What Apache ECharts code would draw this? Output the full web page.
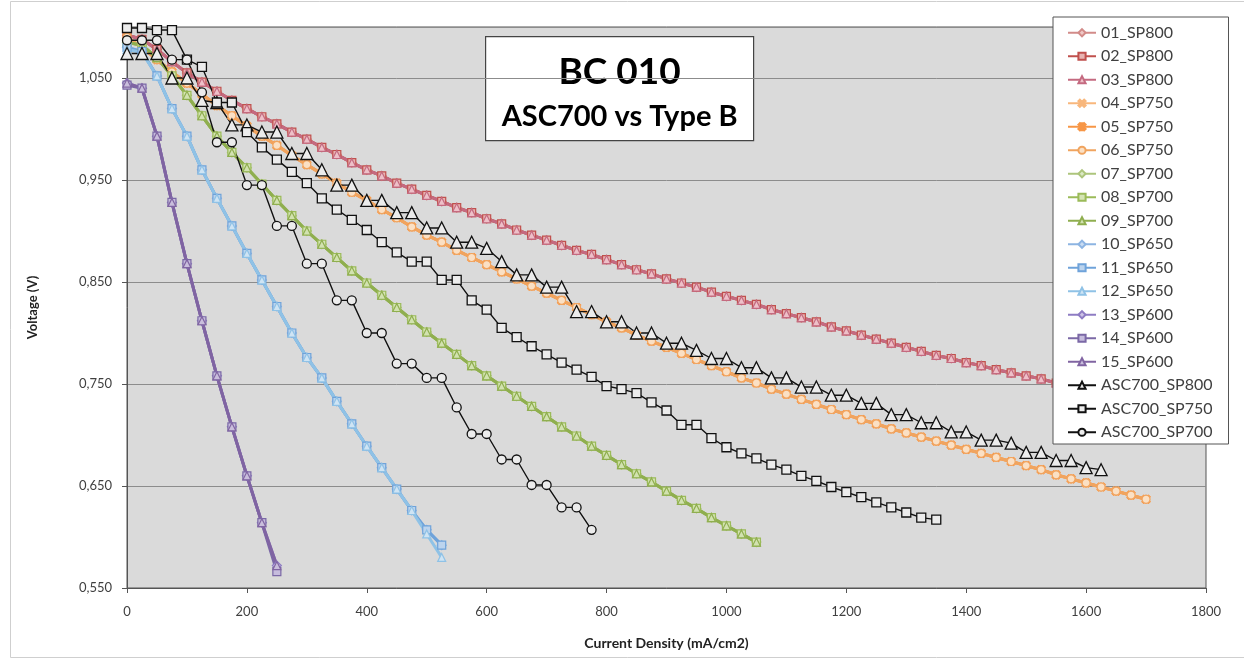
<!DOCTYPE html>
<html>
<head>
<meta charset="utf-8">
<title>BC 010 - ASC700 vs Type B</title>
<script src="https://cdn.jsdelivr.net/npm/echarts@6/dist/echarts.min.js"></script>
<style>
  html, body { margin: 0; padding: 0; background: #fff; }
  #chart { width: 1244px; height: 662px; }
</style>
</head>
<body>
<div id="chart"></div>
<script>
// current density steps (mA/cm2)
const current = [0, 25, 50, 75, 100, 125, 150, 175, 200, 225, 250, 275, 300, 325, 350, 375, 400, 425, 450, 475,
  500, 525, 550, 575, 600, 625, 650, 675, 700, 725, 750, 775, 800, 825, 850, 875, 900, 925, 950, 975,
  1000, 1025, 1050, 1075, 1100, 1125, 1150, 1175, 1200, 1225, 1250, 1275, 1300, 1325, 1350, 1375, 1400, 1425, 1450, 1475,
  1500, 1525, 1550, 1575, 1600, 1625, 1650, 1675, 1700]

// voltages (V)
const sp800 = [1.092, 1.088, 1.078, 1.066, 1.055, 1.046, 1.037, 1.028, 1.020, 1.012, 1.005, 0.997, 0.990, 0.982, 0.975, 0.967,
  0.960, 0.954, 0.947, 0.941, 0.935, 0.929, 0.923, 0.918, 0.912, 0.907, 0.901, 0.896, 0.891, 0.886, 0.881, 0.877,
  0.872, 0.867, 0.862, 0.858, 0.853, 0.849, 0.845, 0.840, 0.836, 0.832, 0.828, 0.823, 0.819, 0.815, 0.811, 0.806,
  0.802, 0.798, 0.794, 0.790, 0.786, 0.782, 0.778, 0.775, 0.771, 0.768, 0.764, 0.761, 0.758, 0.755, 0.751, 0.748,
  0.745, 0.742, 0.738]
const sp750 = [1.090, 1.080, 1.068, 1.056, 1.045, 1.034, 1.023, 1.013, 1.003, 0.993, 0.984, 0.974, 0.965, 0.956, 0.947, 0.938,
  0.930, 0.921, 0.913, 0.904, 0.896, 0.889, 0.881, 0.874, 0.867, 0.860, 0.853, 0.846, 0.839, 0.832, 0.825, 0.818,
  0.811, 0.805, 0.798, 0.792, 0.786, 0.780, 0.774, 0.768, 0.762, 0.756, 0.751, 0.745, 0.740, 0.735, 0.730, 0.725,
  0.720, 0.715, 0.711, 0.706, 0.702, 0.698, 0.694, 0.690, 0.686, 0.682, 0.678, 0.674, 0.670, 0.666, 0.661, 0.657,
  0.653, 0.649, 0.645, 0.641, 0.637]
const sp700 = [1.085, 1.082, 1.070, 1.052, 1.033, 1.013, 0.993, 0.977, 0.962, 0.946, 0.930, 0.915, 0.900, 0.887, 0.874, 0.861,
  0.849, 0.837, 0.825, 0.813, 0.801, 0.790, 0.779, 0.768, 0.758, 0.748, 0.738, 0.728, 0.718, 0.708, 0.699, 0.689,
  0.680, 0.671, 0.662, 0.654, 0.645, 0.636, 0.628, 0.619, 0.611, 0.603, 0.595]
const sp650 = [1.080, 1.076, 1.052, 1.020, 0.993, 0.960, 0.932, 0.905, 0.878, 0.852, 0.826, 0.800, 0.776, 0.756, 0.733, 0.711,
  0.689, 0.668, 0.647, 0.626, 0.607, 0.592]
const sp650b = [1.078, 1.075, 1.052, 1.020, 0.993, 0.960, 0.932, 0.905, 0.878, 0.852, 0.826, 0.800, 0.776, 0.756, 0.733, 0.711,
  0.689, 0.668, 0.647, 0.626, 0.603, 0.580]
const sp600 = [1.045, 1.040, 0.993, 0.928, 0.868, 0.812, 0.758, 0.708, 0.660, 0.614, 0.572]
const sp600b = [1.043, 1.040, 0.993, 0.928, 0.868, 0.812, 0.758, 0.708, 0.660, 0.614, 0.566]

const asc800 = [1.074, 1.074, 1.074, 1.050, 1.050, 1.028, 1.026, 1.004, 1.004, 0.997, 0.997, 0.976, 0.976, 0.960, 0.945, 0.945,
  0.930, 0.930, 0.918, 0.918, 0.903, 0.903, 0.889, 0.889, 0.883, 0.870, 0.857, 0.857, 0.845, 0.845, 0.821, 0.821,
  0.811, 0.811, 0.800, 0.800, 0.790, 0.790, 0.783, 0.775, 0.775, 0.766, 0.766, 0.756, 0.756, 0.747, 0.747, 0.739,
  0.739, 0.731, 0.731, 0.720, 0.720, 0.712, 0.712, 0.703, 0.703, 0.695, 0.695, 0.692, 0.683, 0.683, 0.675, 0.675,
  0.668, 0.666]
const asc750 = [1.099, 1.099, 1.097, 1.097, 1.068, 1.061, 1.026, 1.026, 0.997, 0.982, 0.970, 0.958, 0.947, 0.932, 0.921, 0.911,
  0.901, 0.889, 0.879, 0.870, 0.870, 0.852, 0.852, 0.832, 0.823, 0.805, 0.796, 0.787, 0.779, 0.771, 0.764, 0.757,
  0.748, 0.745, 0.741, 0.732, 0.724, 0.710, 0.710, 0.697, 0.688, 0.682, 0.677, 0.671, 0.666, 0.660, 0.655, 0.649,
  0.644, 0.639, 0.634, 0.629, 0.624, 0.619, 0.617]
const asc700 = [1.087, 1.087, 1.087, 1.068, 1.068, 1.036, 0.987, 0.987, 0.945, 0.945, 0.905, 0.905, 0.868, 0.868, 0.832, 0.832,
  0.800, 0.800, 0.770, 0.770, 0.756, 0.756, 0.727, 0.701, 0.701, 0.676, 0.676, 0.651, 0.651, 0.629, 0.629, 0.607]

const xTicks = [0, 1800, 200]
const yTicks = [0.55, 1.1, 0.1]

const X_MARK = 'path://M0,2L2,0L5,3L8,0L10,2L7,5L10,8L8,10L5,7L2,10L0,8L3,5Z'
const STAR_MARK = 'path://M0,2L2,0L5,3L8,0L10,2L7,5L10,8L8,10L5,7L2,10L0,8L3,5Z M4.2,0H5.8V10H4.2Z'

function pairs(values) {
  return values.map((v, i) => [current[i], v])
}

function colored(name, values, symbol, color, fill, size) {
  return {
    name: name,
    type: 'line',
    data: pairs(values),
    symbol: symbol,
    symbolSize: size || 8,
    showAllSymbol: true,
    lineStyle: { color: color, width: 3 },
    itemStyle: { color: fill, borderColor: color, borderWidth: 1.2 }
  }
}

function black(name, values, symbol, size) {
  return {
    name: name,
    type: 'line',
    data: pairs(values),
    symbol: symbol,
    symbolSize: size,
    showAllSymbol: true,
    lineStyle: { color: '#111', width: 1.4 },
    itemStyle: { color: '#ececec', borderColor: '#111', borderWidth: 1.3 }
  }
}

const chart = echarts.init(document.getElementById('chart'))
const font = 'Lato, "Liberation Sans", sans-serif'

const option = {
  animation: false,
  textStyle: { fontFamily: font },
  grid: {
    left: 127, right: 38, top: 27, bottom: 74,
    show: true,
    backgroundColor: '#dadada',
    borderColor: '#555',
    borderWidth: 1
  },
  graphic: [
    {
      type: 'rect', left: 8, top: -1, z: -1,
      shape: { width: 1236, height: 656 },
      style: { fill: 'none', stroke: '#cfcfcf', lineWidth: 1 }
    },
    {
      type: 'group', left: 485, top: 36, z: 10,
      children: [
        { type: 'rect', shape: { width: 268, height: 104 }, style: { fill: '#fff', stroke: '#444', lineWidth: 1.2 } },
        { type: 'text', x: 134, y: 35, style: { text: 'BC 010', font: 'bold 37px ' + font, fill: '#000', align: 'center', verticalAlign: 'middle' } },
        { type: 'text', x: 134, y: 80, style: { text: 'ASC700 vs Type B', font: 'bold 29px ' + font, fill: '#000', align: 'center', verticalAlign: 'middle' } }
      ]
    }
  ],
  legend: {
    orient: 'vertical',
    left: 1053,
    top: 17,
    padding: [4, 16, 0, 14],
    itemGap: 0,
    itemWidth: 28,
    itemHeight: 9,
    backgroundColor: '#fff',
    borderColor: '#555',
    borderWidth: 1,
    textStyle: { fontSize: 16, color: '#404040', lineHeight: 23.5, fontFamily: font }
  },
  xAxis: {
    type: 'value',
    min: xTicks[0], max: xTicks[1], interval: xTicks[2],
    name: 'Current Density (mA/cm2)',
    nameLocation: 'middle',
    nameGap: 48,
    nameTextStyle: { fontWeight: 'bold', fontSize: 14, color: '#222' },
    axisLine: { lineStyle: { color: '#555' } },
    axisTick: { show: true, length: 5, lineStyle: { color: '#555' } },
    axisLabel: { fontSize: 13, color: '#404040', margin: 17, formatter: v => String(v) },
    splitLine: { show: false }
  },
  yAxis: {
    type: 'value',
    min: yTicks[0], max: yTicks[1], interval: yTicks[2],
    name: 'Voltage (V)',
    nameLocation: 'middle',
    nameGap: 88,
    nameTextStyle: { fontWeight: 'bold', fontSize: 13, color: '#222' },
    axisLine: { show: true, lineStyle: { color: '#555' } },
    axisTick: { show: true, length: 5, lineStyle: { color: '#555' } },
    axisLabel: {
      fontSize: 13, color: '#404040', margin: 15, showMaxLabel: false,
      formatter: v => v.toFixed(3).replace('.', ',')
    },
    splitLine: { lineStyle: { color: '#8c8c8c', width: 1 } }
  },
  series: [
    colored('01_SP800', sp800, 'diamond', '#d28b89', '#f0c8c6', 9),
    colored('02_SP800', sp800, 'rect', '#c0504d', '#e8b3b1'),
    colored('03_SP800', sp800, 'triangle', '#c46a80', '#eec0c8'),
    colored('04_SP750', sp750, X_MARK, '#f8b77c', '#f8b77c'),
    colored('05_SP750', sp750, STAR_MARK, '#f79646', '#f79646'),
    colored('06_SP750', sp750, 'circle', '#f0a45f', '#fbe0c4'),
    colored('07_SP700', sp700, 'diamond', '#adc57c', '#dbe8c4', 9),
    colored('08_SP700', sp700, 'rect', '#9bbb59', '#d5e4b4'),
    colored('09_SP700', sp700, 'triangle', '#8fae4f', '#d2e2b0'),
    colored('10_SP650', sp650, 'diamond', '#8db4e2', '#c9dcf2', 9),
    colored('11_SP650', sp650, 'rect', '#6fa3da', '#bcd4ee'),
    colored('12_SP650', sp650b, 'triangle', '#8fc2e6', '#cfe4f4'),
    colored('13_SP600', sp600, 'diamond', '#8e7cc3', '#cdc3e6', 9),
    colored('14_SP600', sp600b, 'rect', '#7b68a6', '#c6bcdd'),
    colored('15_SP600', sp600, 'triangle', '#8064a2', '#c9bedc'),
    black('ASC700_SP800', asc800, 'triangle', 12),
    black('ASC700_SP750', asc750, 'rect', 9),
    black('ASC700_SP700', asc700, 'circle', 9)
  ]
}

chart.setOption(option)
window.addEventListener('resize', function () {
  chart.resize()
})
</script>
</body>
</html>
